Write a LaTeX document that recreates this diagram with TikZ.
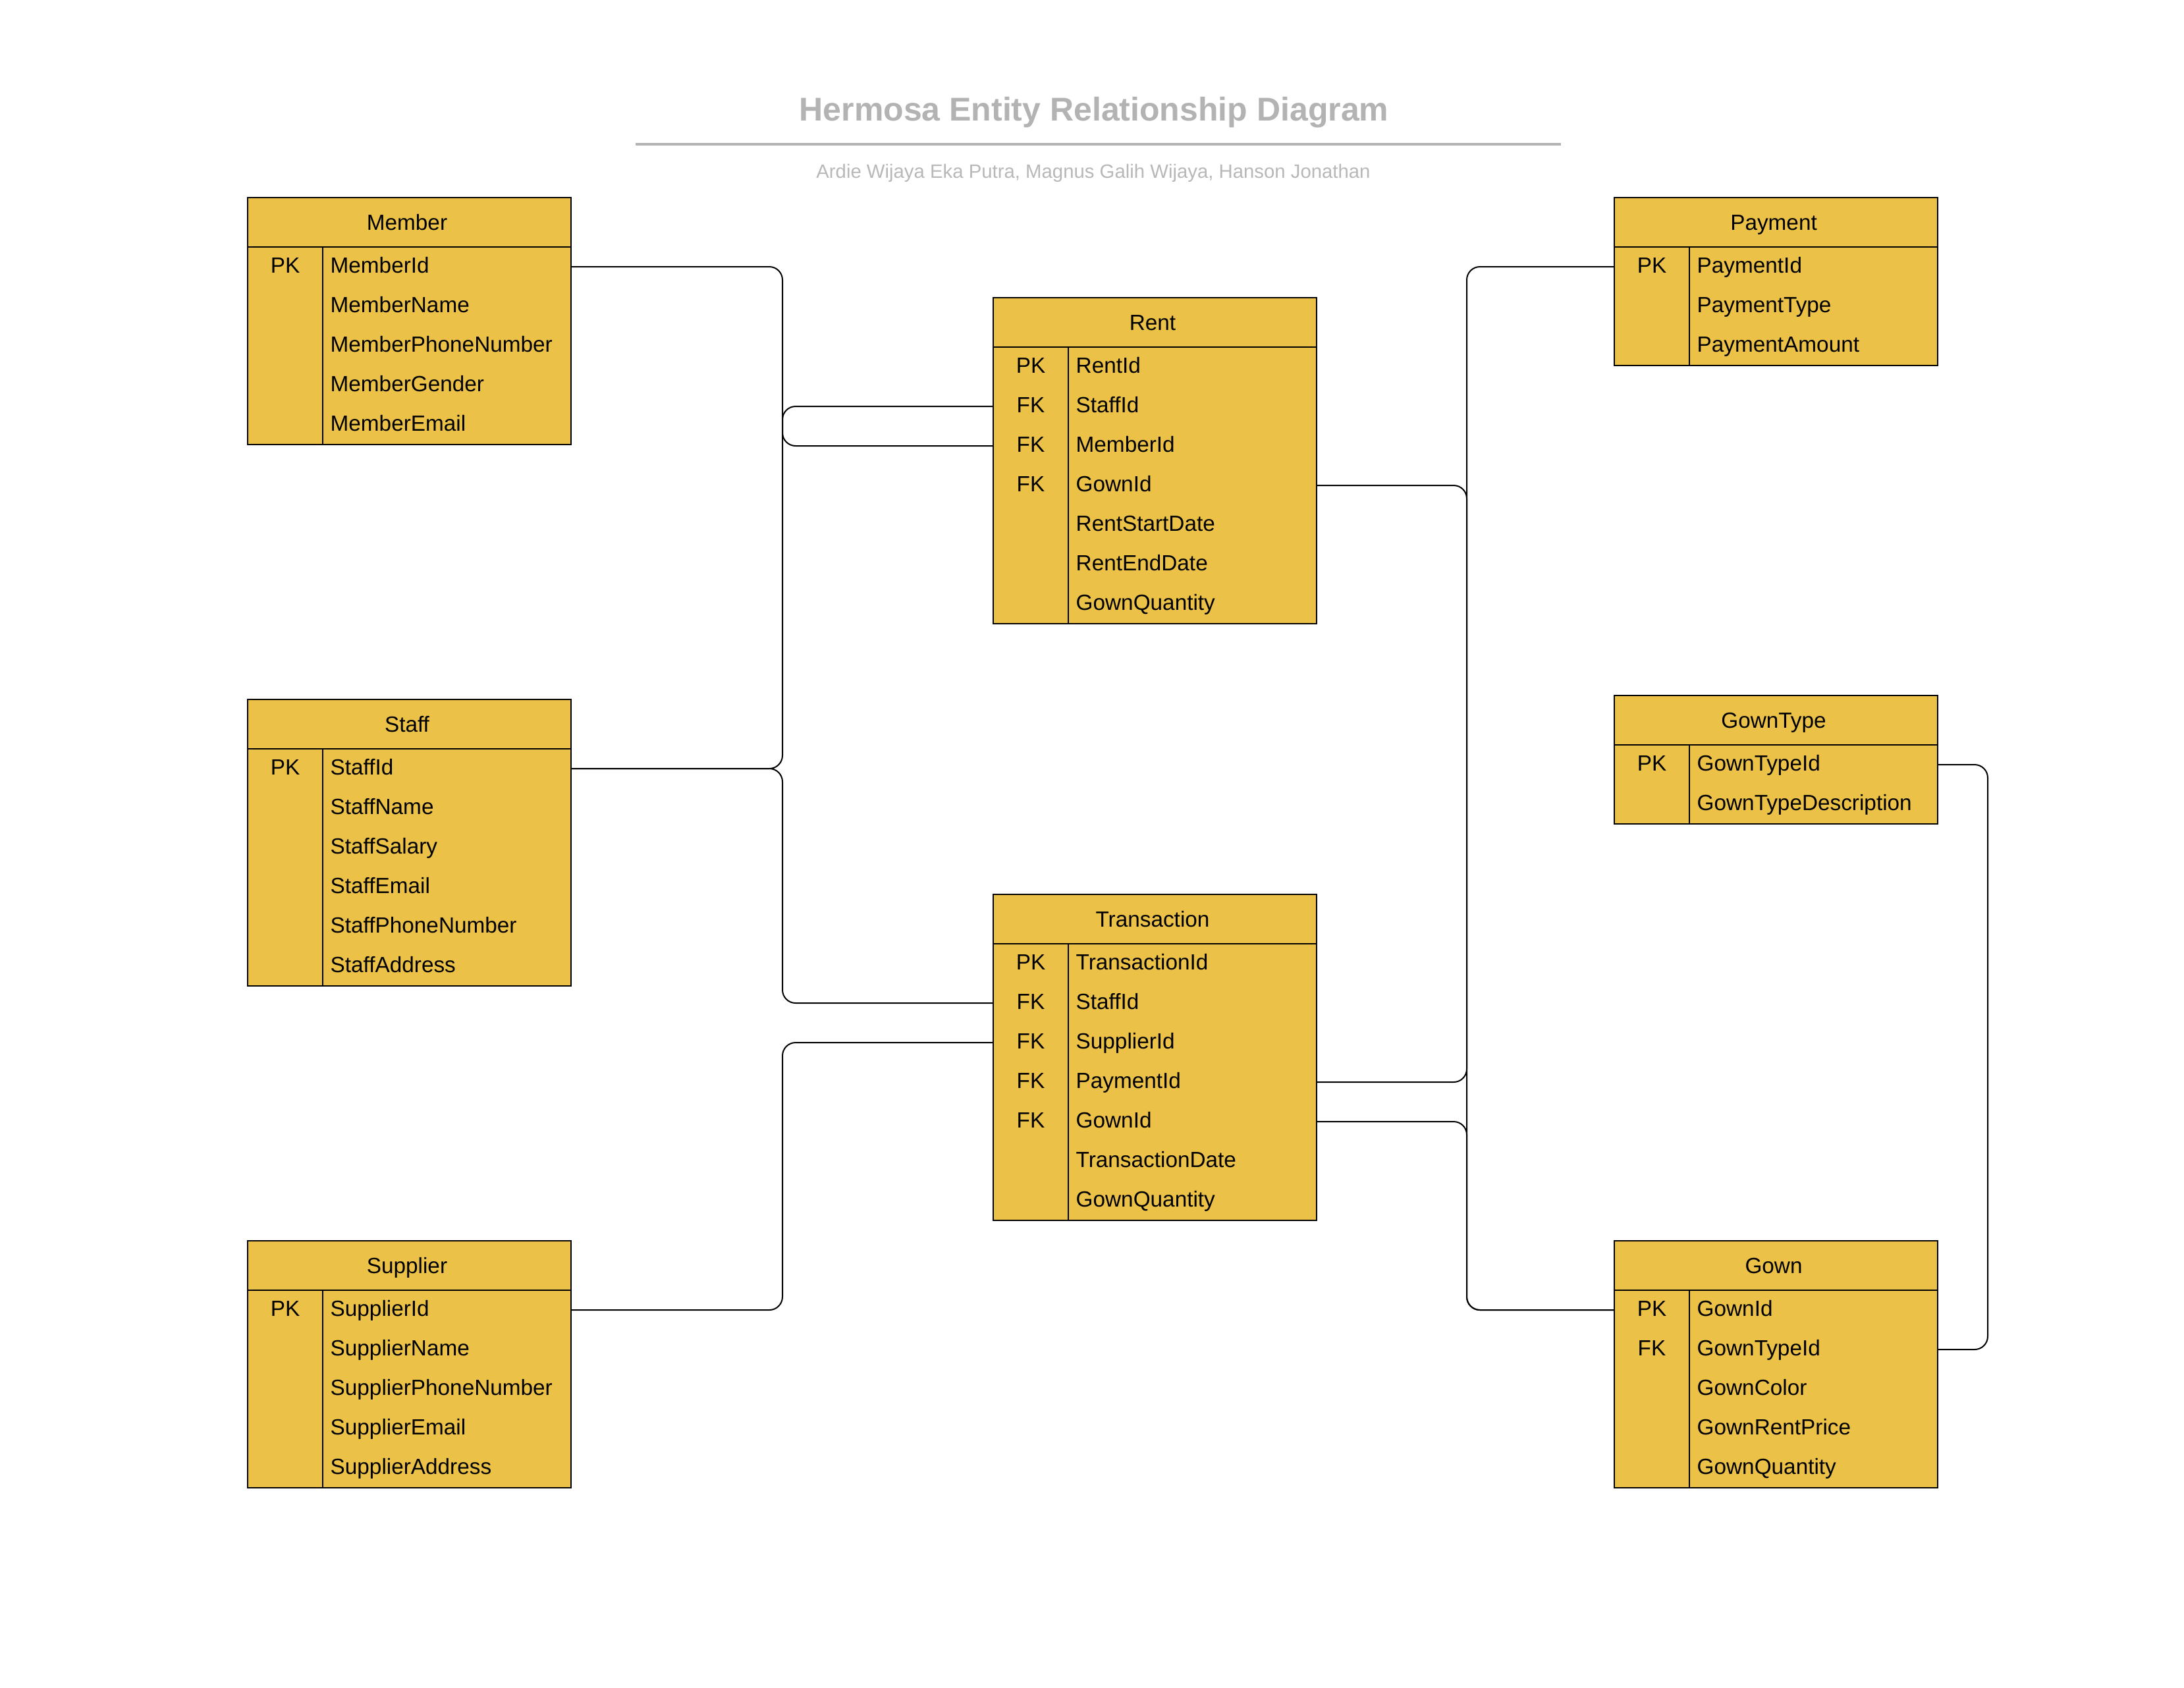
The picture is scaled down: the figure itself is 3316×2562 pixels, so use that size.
\documentclass[tikz,border=0pt]{standalone}
\usepackage{fontspec}
\setmainfont{Liberation Sans}
\usetikzlibrary{calc}
\definecolor{eryellow}{RGB}{235,194,71}
\definecolor{titlegray}{RGB}{179,179,179}
\definecolor{subgray}{RGB}{184,184,184}
\tikzset{
  erhead/.style={anchor=north west, rectangle, inner sep=0pt, outer sep=0pt, minimum width=147.3pt, minimum height=22.5pt, fill=eryellow},
  errow/.style={anchor=north west, rectangle, inner sep=0pt, outer sep=0pt, minimum width=147.3pt, minimum height=18pt, fill=eryellow},
  ertext/.style={inner sep=0pt, font=\fontsize{10pt}{12pt}\selectfont, text=black},
  erline/.style={draw=black, line width=0.7pt},
  conn/.style={draw=black, line width=0.6pt, rounded corners=6pt},
  titlestyle/.style={inner sep=0pt, font=\fontsize{15pt}{18pt}\selectfont\bfseries, text=titlegray},
  substyle/.style={inner sep=0pt, font=\fontsize{8.8pt}{10.5pt}\selectfont, text=subgray},
  rulestyle/.style={inner sep=0pt, outer sep=0pt, fill=titlegray, minimum width=421.5pt, minimum height=1.2pt}
}
% #1 name, #2 left x, #3 top y, #4 title, #5 rows, #6 number of rows
\newcommand{\ertable}[6]{%
  \node[erhead] (#1) at ({#2},{#3}) {};
  \node[ertext, anchor=base] (#1-title) at ({#2+242},{#3+49}) {#4};
  \foreach \k/\f [count=\i] in {#5} {
    \node[errow] (#1-\i) at ({#2},{#3+75+60*(\i-1)}) {};
    \node[ertext, anchor=base] (#1-k\i) at ({#2+57},{#3+75+60*(\i-1)+39}) {\k};
    \node[ertext, anchor=base west] (#1-f\i) at ({#2+125},{#3+75+60*(\i-1)+39}) {\f};
  }
  \draw[erline] (#1.north west) rectangle (#1-#6.south east);
  \draw[erline] (#1.south west) -- (#1.south east);
  \draw[erline] ({#2+114},{#3+75}) -- ({#2+114},{#3+75+60*#6});
}
\begin{document}
\begin{tikzpicture}[x=0.3pt,y=-0.3pt]
\useasboundingbox[fill=white] (0,0) rectangle (3316,2562);

\node[titlestyle, anchor=base] (title) at (1661,183) {Hermosa Entity Relationship Diagram};
\node[rulestyle] (rule) at (1667,219) {};
\node[substyle, anchor=base] (subtitle) at (1660,270) {Ardie Wijaya Eka Putra, Magnus Galih Wijaya, Hanson Jonathan};

\ertable{member}{376}{300}{Member}{PK/MemberId, /MemberName, /MemberPhoneNumber, /MemberGender, /MemberEmail}{5}
\ertable{staff}{376}{1062}{Staff}{PK/StaffId, /StaffName, /StaffSalary, /StaffEmail, /StaffPhoneNumber, /StaffAddress}{6}
\ertable{supplier}{376}{1884}{Supplier}{PK/SupplierId, /SupplierName, /SupplierPhoneNumber, /SupplierEmail, /SupplierAddress}{5}
\ertable{rent}{1508}{452}{Rent}{PK/RentId, FK/StaffId, FK/MemberId, FK/GownId, /RentStartDate, /RentEndDate, /GownQuantity}{7}
\ertable{trans}{1508}{1358}{Transaction}{PK/TransactionId, FK/StaffId, FK/SupplierId, FK/PaymentId, FK/GownId, /TransactionDate, /GownQuantity}{7}
\ertable{payment}{2451}{300}{Payment}{PK/PaymentId, /PaymentType, /PaymentAmount}{3}
\ertable{gowntype}{2451}{1056}{GownType}{PK/GownTypeId, /GownTypeDescription}{2}
\ertable{gown}{2451}{1884}{Gown}{PK/GownId, FK/GownTypeId, /GownColor, /GownRentPrice, /GownQuantity}{5}

\coordinate (busL) at (1188,0);
\coordinate (busR) at (2227,0);
\coordinate (busG) at (3018,0);

\draw[conn] (member-1.east) -| (busL |- rent-3.west) -- (rent-3.west);
\draw[conn] (staff-1.east) -| (busL |- rent-2.west) -- (rent-2.west);
\draw[conn] (staff-1.east) -| (busL |- trans-2.west) -- (trans-2.west);
\draw[conn] (supplier-1.east) -| (busL |- trans-3.west) -- (trans-3.west);
\draw[conn] (payment-1.west) -| (busR |- trans-4.east) -- (trans-4.east);
\draw[conn] (rent-4.east) -| (busR |- gown-1.west) -- (gown-1.west);
\draw[conn] (trans-5.east) -| (busR |- gown-1.west) -- (gown-1.west);
\draw[conn] (gowntype-1.east) -| (busG |- gown-2.east) -- (gown-2.east);
\end{tikzpicture}
\end{document}
